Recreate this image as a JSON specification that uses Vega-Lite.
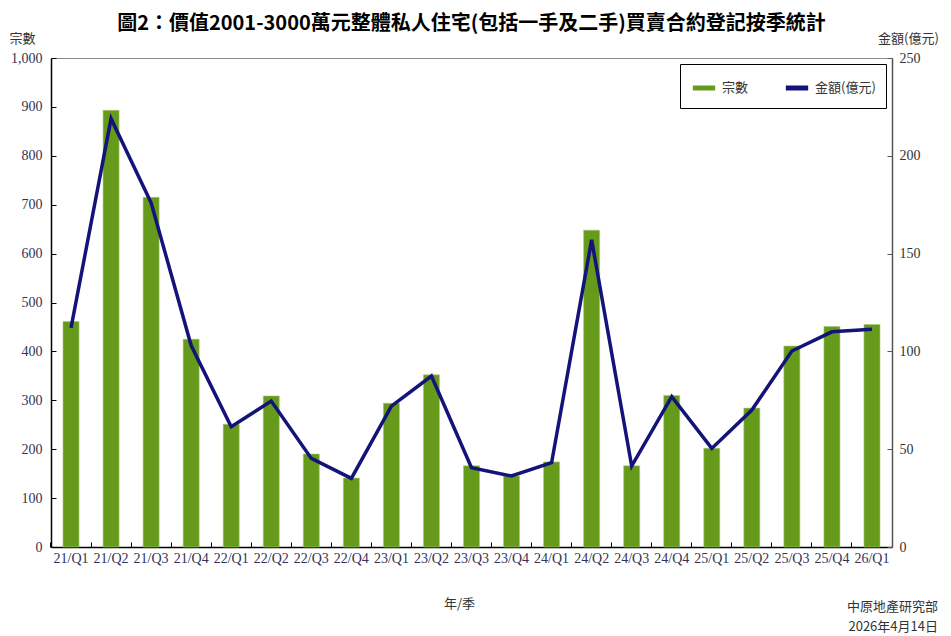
{
  "$schema": "https://vega.github.io/schema/vega-lite/v6.json",
  "width": 841,
  "height": 489,
  "autosize": "none",
  "padding": {"left": 51, "top": 58, "right": 59, "bottom": 89},
  "background": "white",
  "title": {
    "text": "圖2：價值2001-3000萬元整體私人住宅(包括一手及二手)買賣合約登記按季統計",
    "font": "Noto Sans CJK TC",
    "fontSize": 20,
    "fontWeight": "bold",
    "color": "#000000",
    "anchor": "middle",
    "offset": -2
  },
  "config": {
    "view": {"stroke": "#8c8c8c", "strokeWidth": 1},
    "axis": {
      "labelFont": "Liberation Serif",
      "labelFontSize": 14,
      "titleFont": "Noto Sans CJK TC",
      "titleFontSize": 13,
      "titleFontWeight": "normal",
      "grid": false
    },
    "legend": {
      "labelFont": "Noto Sans CJK TC",
      "labelFontSize": 13
    }
  },
  "data": {
    "values": [
      {"季": "21/Q1", "宗數": 461, "金額": 112},
      {"季": "21/Q2", "宗數": 893, "金額": 219},
      {"季": "21/Q3", "宗數": 715, "金額": 176},
      {"季": "21/Q4", "宗數": 425, "金額": 103},
      {"季": "22/Q1", "宗數": 251, "金額": 61.5},
      {"季": "22/Q2", "宗數": 309, "金額": 74.6},
      {"季": "22/Q3", "宗數": 190, "金額": 45.3},
      {"季": "22/Q4", "宗數": 141, "金額": 35.1},
      {"季": "23/Q1", "宗數": 294, "金額": 72},
      {"季": "23/Q2", "宗數": 352, "金額": 87.4},
      {"季": "23/Q3", "宗數": 166, "金額": 40.5},
      {"季": "23/Q4", "宗數": 145, "金額": 36.3},
      {"季": "24/Q1", "宗數": 174, "金額": 43.1},
      {"季": "24/Q2", "宗數": 648, "金額": 157},
      {"季": "24/Q3", "宗數": 166, "金額": 41.4},
      {"季": "24/Q4", "宗數": 310, "金額": 76.9},
      {"季": "25/Q1", "宗數": 202, "金額": 50.4},
      {"季": "25/Q2", "宗數": 284, "金額": 70},
      {"季": "25/Q3", "宗數": 411, "金額": 100.2},
      {"季": "25/Q4", "宗數": 451, "金額": 110},
      {"季": "26/Q1", "宗數": 455, "金額": 111.3}
    ]
  },
  "encoding": {
    "x": {
      "field": "季",
      "type": "ordinal",
      "sort": null,
      "scale": {"paddingInner": 0, "paddingOuter": 0},
      "axis": {
        "title": "年/季",
        "titleX": 408,
        "titleY": 50,
        "titleColor": "#333333",
        "labelAngle": 0,
        "labelColor": "#333355",
        "labelPadding": 9,
        "bandPosition": 0,
        "tickSize": -5,
        "tickColor": "#000000",
        "domainColor": "#000000",
        "domainWidth": 1.5
      }
    }
  },
  "layer": [
    {
      "mark": {"type": "bar", "width": {"band": 0.4}, "fill": "#669a1b", "stroke": "#a9c97a", "strokeWidth": 0.6},
      "encoding": {
        "y": {
          "field": "宗數",
          "type": "quantitative",
          "scale": {"domain": [0, 1000]},
          "axis": {
            "title": "宗數",
            "titleAngle": 0,
            "titleAlign": "center",
            "titleBaseline": "middle",
            "titleX": -29,
            "titleY": -20,
            "titleColor": "#333333",
            "format": ",.0f",
            "values": [0, 100, 200, 300, 400, 500, 600, 700, 800, 900, 1000],
            "labelColor": "#333355",
            "labelPadding": 14,
            "tickSize": -5,
            "tickColor": "#000000",
            "domainColor": "#000000",
            "domainWidth": 1.5
          }
        },
        "color": {
          "datum": "宗數",
          "type": "nominal",
          "scale": {"domain": ["宗數", "金額(億元)"], "range": ["#669a1b", "#13137a"]},
          "legend": {
            "title": null,
            "orient": "top-right",
            "offset": 6,
            "direction": "horizontal",
            "symbolType": "stroke",
            "symbolStrokeWidth": 5,
            "symbolSize": 500,
            "columnPadding": 26,
            "strokeColor": "#000000",
            "padding": 10,
            "labelColor": "#333333"
          }
        }
      }
    },
    {
      "mark": {"type": "line", "strokeWidth": 3.5, "color": "#13137a"},
      "encoding": {
        "y": {
          "field": "金額",
          "type": "quantitative",
          "scale": {"domain": [0, 250]},
          "axis": {
            "orient": "right",
            "title": "金額(億元)",
            "titleAngle": 0,
            "titleAlign": "center",
            "titleBaseline": "middle",
            "titleX": 16,
            "titleY": -20,
            "titleColor": "#333333",
            "values": [0, 50, 100, 150, 200, 250],
            "labelColor": "#333333",
            "labelPadding": 12,
            "tickSize": -5,
            "tickColor": "#555555",
            "domainColor": "#555555",
            "domainWidth": 1.5
          }
        },
        "color": {"datum": "金額(億元)", "type": "nominal"}
      }
    },
    {
      "data": {"values": [{"來源": "中原地產研究部\n2026年4月14日"}]},
      "mark": {
        "type": "text",
        "align": "right",
        "baseline": "middle",
        "lineBreak": "\n",
        "lineHeight": 20,
        "font": "Noto Sans CJK TC",
        "fontSize": 13,
        "color": "#333333",
        "dx": 66,
        "clip": false
      },
      "encoding": {
        "x": {"datum": "26/Q1", "type": "ordinal", "band": 0.5},
        "y": {"datum": -123, "type": "quantitative", "scale": {"domain": [0, 1000]}, "axis": null},
        "text": {"field": "來源", "type": "nominal"}
      }
    }
  ],
  "resolve": {"scale": {"y": "independent", "color": "shared"}}
}
